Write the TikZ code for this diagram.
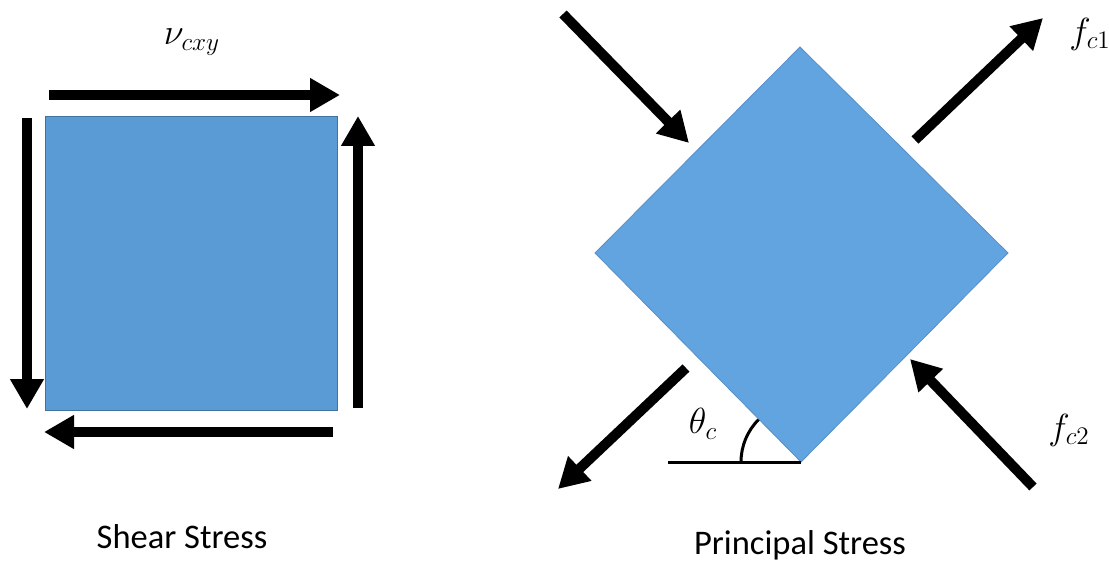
\documentclass[tikz,border=0pt]{standalone}
\usepackage{fontspec}
\setsansfont{Carlito}
\usetikzlibrary{arrows.meta}
\definecolor{sqfill}{HTML}{5B9BD5}
\definecolor{sqline}{HTML}{41719C}
\definecolor{dmfill}{HTML}{62A4E0}
\definecolor{dmline}{HTML}{5A8FC6}
\tikzset{
  force/.style={line width=10pt,-{Triangle[length=30pt,width=32pt]}},
  lbl/.style={font=\huge, scale=1.75, inner sep=0pt},
  captiontext/.style={font=\sffamily\fontsize{34.5}{40}\selectfont, inner sep=0pt}
}
\begin{document}
\begin{tikzpicture}[x=1pt,y=-1pt]
\useasboundingbox (0,0) rectangle (1109,564);
% shear square
\coordinate (sqA) at (45,117);
\coordinate (sqB) at (337,410);
\draw[sqline, line width=1pt, fill=sqfill] (sqA) rectangle (sqB);
\coordinate (t1) at (49,95);   \coordinate (t2) at (340,95);
\coordinate (l1) at (27,118);  \coordinate (l2) at (27,409);
\coordinate (r1) at (358,408); \coordinate (r2) at (358,116);
\coordinate (b1) at (333,432); \coordinate (b2) at (44,432);
\draw[force] (t1) -- (t2);
\draw[force] (l1) -- (l2);
\draw[force] (r1) -- (r2);
\draw[force] (b1) -- (b2);
\node[lbl] (v) at (192,42) {$\nu_{cxy}$};
\node[captiontext] (shear) at (182,537) {Shear Stress};
% principal diamond
\coordinate (dT) at (800,47);
\coordinate (dR) at (1008,253);
\coordinate (dB) at (801,462);
\coordinate (dL) at (595,253);
\draw[dmline, line width=0.8pt, fill=dmfill] (dT) -- (dR) -- (dB) -- (dL) -- cycle;
\coordinate (a1) at (563,14);   \coordinate (a2) at (689,143);
\coordinate (c1) at (915,140);  \coordinate (c2) at (1043,18);
\coordinate (e1) at (1033,487); \coordinate (e2) at (910,359);
\coordinate (g1) at (686,368);  \coordinate (g2) at (558,489);
\draw[force] (a1) -- (a2);
\draw[force] (c1) -- (c2);
\draw[force] (e1) -- (e2);
\draw[force] (g1) -- (g2);
\coordinate (h1) at (668,462);
\draw[line width=3pt] (h1) -- (dB);
\draw[line width=3pt] ([xshift=-60pt]dB) arc[start angle=180, end angle=135, radius=60pt];
\node[lbl] (theta) at (703,424) {$\theta_c$};
\node[lbl] (f1) at (1090,34) {$f_{c1}$};
\node[lbl] (f2) at (1069,430) {$f_{c2}$};
\node[captiontext] (princ) at (800,545) {Principal Stress};
\end{tikzpicture}
\end{document}
